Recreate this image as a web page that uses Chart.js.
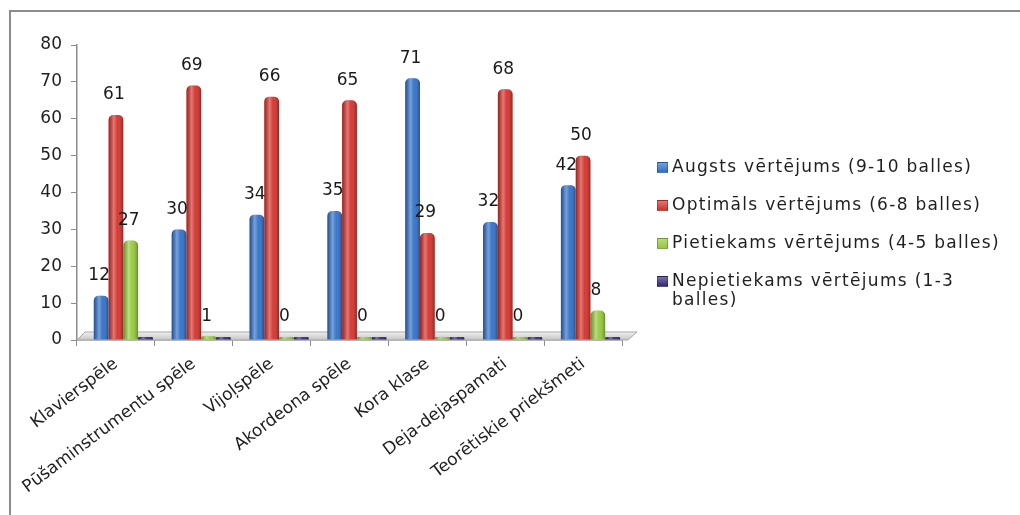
<!DOCTYPE html>
<html>
<head>
<meta charset="utf-8">
<script src="https://cdn.jsdelivr.net/npm/chart.js@4/dist/chart.umd.min.js"></script>
<style>
  html, body { margin: 0; padding: 0; background: #fff; }
  #wrap { position: relative; width: 1020px; height: 515px; overflow: hidden; font-family: "DejaVu Sans", sans-serif; }
  canvas { position: absolute; left: 0; top: 0; }
  #legend { position: absolute; left: 657px; top: 157px; font-size: 17px; letter-spacing: 1.3px; color: #1f1f1f; white-space: nowrap; }
  #legend .item { display: flex; align-items: flex-start; line-height: 19px; margin-bottom: 19px; }
  #legend .box { width: 9px; height: 9px; margin: 5px 4px 0 0; flex: none; border: 1px solid rgba(0,0,0,0.25); }
</style>
</head>
<body>
<div id="wrap">
  <canvas id="chart" width="1020" height="515"></canvas>
  <div id="legend"></div>
</div>
<script>
// data
const categories = ['Klavierspēle', 'Pūšaminstrumentu spēle', 'Vijoļspēle', 'Akordeona spēle', 'Kora klase', 'Deja-dejaspamati', 'Teorētiskie priekšmeti'];
const seriesNames = ['Augsts vērtējums (9-10 balles)', 'Optimāls vērtējums (6-8 balles)', 'Pietiekams vērtējums (4-5 balles)', 'Nepietiekams vērtējums (1-3 balles)'];
const augsts = [12, 30, 34, 35, 71, 32, 42];
const optimals = [61, 69, 66, 65, 29, 68, 50];
const pietiekams = [27, 1, 0, 0, 0, 0, 8];
const nepietiekams = [0, 0, 0, 0, 0, 0, 0];
const yMin = 0, yMax = 80, yStep = 10;

const colors = ['#2f6fc8', '#d5302a', '#94c93a', '#34287a'];
const FONT = '"DejaVu Sans", sans-serif';

// slightly wider text, like the stretched original; plus the outer frame (left + top only)
const wideText = {
    id: 'wideText',
    beforeInit: (chart) => { chart.ctx.letterSpacing = '0.8px'; },
    beforeDraw: (chart) => {
        const ctx = chart.ctx;
        ctx.save();
        ctx.strokeStyle = '#8c8c8c';
        ctx.lineWidth = 2;
        ctx.beginPath();
        ctx.moveTo(10, chart.height + 5);
        ctx.lineTo(10, 11);
        ctx.lineTo(chart.width + 5, 11);
        ctx.stroke();
        ctx.restore();
    }
};

// grey 3D floor under the bars
const floorPlugin = {
    id: 'floor',
    beforeDatasetsDraw: (chart) => {
        const { ctx, chartArea: a } = chart;
        const g = ctx.createLinearGradient(0, a.bottom - 8, 0, a.bottom);
        g.addColorStop(0, '#f0f0f0');
        g.addColorStop(1, '#c4c4c4');
        ctx.save();
        ctx.beginPath();
        ctx.moveTo(a.left, a.bottom);
        ctx.lineTo(a.left + 8, a.bottom - 8);
        ctx.lineTo(a.right + 15, a.bottom - 8);
        ctx.lineTo(a.right + 6, a.bottom);
        ctx.closePath();
        ctx.fillStyle = g;
        ctx.fill();
        ctx.strokeStyle = '#a8a8a8';
        ctx.lineWidth = 1;
        ctx.stroke();
        ctx.restore();
    }
};

// the 3D view pushes each group a little to the right
const depthShift = {
    id: 'depthShift',
    afterDatasetsUpdate: (chart) => {
        const x = chart.scales.x;
        const shift = (x.width / categories.length) * 0.095;
        chart.data.datasets.forEach((ds, i) => {
            chart.getDatasetMeta(i).data.forEach((bar) => { bar.x += shift; });
        });
    }
};

// cylinder shading + value labels
const barFx = {
    id: 'barFx',
    afterDatasetsDraw: (chart) => {
        const ctx = chart.ctx;
        chart.data.datasets.forEach((ds, i) => {
            chart.getDatasetMeta(i).data.forEach((bar) => {
                const w = bar.width, x0 = bar.x - w / 2;
                const top = Math.min(bar.y, bar.base), h = Math.abs(bar.base - bar.y);
                const g = ctx.createLinearGradient(x0, 0, x0 + w, 0);
                g.addColorStop(0, 'rgba(0,0,0,0.28)');
                g.addColorStop(0.35, 'rgba(255,255,255,0.35)');
                g.addColorStop(0.6, 'rgba(255,255,255,0.05)');
                g.addColorStop(1, 'rgba(0,0,0,0.32)');
                ctx.save();
                ctx.beginPath();
                ctx.roundRect(x0, top, w, h, [Math.min(5, h / 2), Math.min(5, h / 2), 0, 0]);
                ctx.clip();
                ctx.fillStyle = g;
                ctx.fillRect(x0, top, w, h);
                ctx.restore();
            });
        });

        ctx.save();
        ctx.font = '17px ' + FONT;
        ctx.fillStyle = '#1a1a1a';
        ctx.textAlign = 'center';
        ctx.textBaseline = 'middle';
        chart.data.datasets.forEach((ds, i) => {
            if (!ds.showValues) return;
            chart.getDatasetMeta(i).data.forEach((bar, j) => {
                ctx.fillText(String(ds.data[j]), bar.x - 2, bar.y - 20);
            });
        });
        ctx.restore();
    }
};

const seriesData = [augsts, optimals, pietiekams, nepietiekams];

const chart = new Chart(document.getElementById('chart').getContext('2d'), {
    type: 'bar',
    data: {
        labels: categories,
        datasets: seriesData.map((d, i) => ({
            label: seriesNames[i],
            data: d,
            backgroundColor: colors[i],
            borderRadius: { topLeft: 5, topRight: 5 },
            borderSkipped: 'bottom',
            minBarLength: i >= 2 ? 3 : 0,
            showValues: i < 3,
            categoryPercentage: 0.76,
            barPercentage: 1.0
        }))
    },
    options: {
        responsive: false,
        animation: false,
        layout: { padding: { left: 0, top: 45, right: 398, bottom: 0 } },
        plugins: { legend: { display: false }, tooltip: { enabled: false } },
        scales: {
            x: {
                afterFit: (s) => { s.height = 175; },
                grid: { offset: true, drawOnChartArea: false, drawTicks: true, tickLength: 6, color: '#8c8c8c' },
                border: { display: true, color: '#8c8c8c', width: 1.5 },
                ticks: { minRotation: 37, maxRotation: 37, autoSkip: false, color: '#1f1f1f', font: { family: FONT, size: 17 }, padding: 8 }
            },
            y: {
                min: yMin, max: yMax,
                afterFit: (s) => { s.width = 77; },
                grid: { drawOnChartArea: false, drawTicks: true, tickLength: 6, color: '#8c8c8c' },
                border: { display: true, color: '#8c8c8c', width: 1.5 },
                ticks: { stepSize: yStep, color: '#1f1f1f', font: { family: FONT, size: 17 }, padding: 9 }
            }
        }
    },
    plugins: [wideText, floorPlugin, depthShift, barFx]
});

// legend on the right; the last entry wraps like the original
const legend = document.getElementById('legend');
seriesNames.forEach((name, i) => {
    const item = document.createElement('div');
    item.className = 'item';
    const box = document.createElement('span');
    box.className = 'box';
    box.style.background = 'linear-gradient(180deg, #ffffff55, ' + colors[i] + ')';
    box.style.backgroundColor = colors[i];
    const txt = document.createElement('span');
    if (i === 3) {
        const cut = name.lastIndexOf(' ');
        txt.append(name.slice(0, cut), document.createElement('br'), name.slice(cut + 1));
    } else {
        txt.textContent = name;
    }
    item.appendChild(box);
    item.appendChild(txt);
    legend.appendChild(item);
});
</script>
</body>
</html>
